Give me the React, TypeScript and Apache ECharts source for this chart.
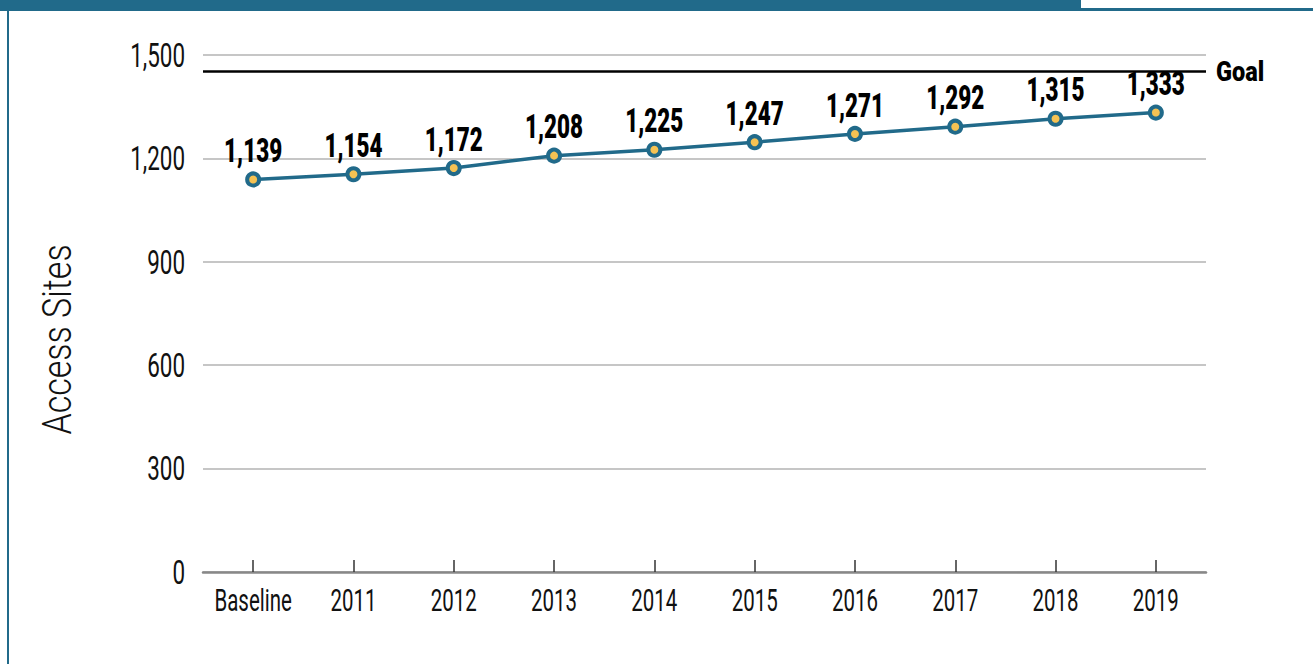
import React, { useEffect, useRef } from "react";
import * as echarts from "echarts";

const categories = ["Baseline", "2011", "2012", "2013", "2014", "2015", "2016", "2017", "2018", "2019"];
const accessSites = [1139, 1154, 1172, 1208, 1225, 1247, 1271, 1292, 1315, 1333];
const goalValue = 1454;
const goalLabel = "Goal";
const yAxisName = "Access Sites";

const TEAL = "#216a8a";
const YELLOW = "#f5c253";
const FONT = "Roboto, 'Liberation Sans', sans-serif";

// horizontal condensing of texts to mimic the reference's condensed typeface
function condenseTexts(root: HTMLElement) {
  const texts = root.querySelectorAll("svg text");
  texts.forEach((node) => {
    const el = node as SVGTextElement;
    const content = (el.textContent || "").trim();
    const weight = parseInt(getComputedStyle(el).fontWeight || "400", 10) || 400;
    let sx = 0.66;
    if (content === goalLabel) sx = 0.84;
    else if (content === yAxisName) sx = 0.83;
    else if (weight >= 600) sx = 0.68;
    const cur = el.getAttribute("transform") || "";
    if (el.getAttribute("data-condensed") === cur && cur !== "") return;
    const xa = parseFloat(el.getAttribute("x") || "0") || 0;
    const next = `${cur} translate(${xa} 0) scale(${sx} 1) translate(${-xa} 0)`.trim();
    el.setAttribute("transform", next);
    el.setAttribute("data-condensed", next);
  });
}

export default function App() {
  const ref = useRef<HTMLDivElement>(null);

  useEffect(() => {
    document.body.style.margin = "0";
    const dom = ref.current;
    if (!dom) return;
    const chart = echarts.init(dom, null, { renderer: "svg" });
    chart.setOption({
      animation: false,
      backgroundColor: "#ffffff",
      grid: { left: 203, right: 107, top: 55, bottom: 92, containLabel: false },
      graphic: [
        { type: "rect", shape: { x: 0, y: 0, width: 1081, height: 11 }, style: { fill: TEAL }, silent: true },
        { type: "rect", shape: { x: 1081, y: 8, width: 232, height: 3 }, style: { fill: TEAL }, silent: true },
        { type: "rect", shape: { x: 7, y: 0, width: 2, height: 664 }, style: { fill: TEAL }, silent: true },
      ],
      xAxis: {
        type: "category",
        data: categories,
        boundaryGap: true,
        axisLine: { show: true, lineStyle: { color: "#888888", width: 2.5 } },
        axisTick: { show: true, inside: true, length: 12, alignWithLabel: true, lineStyle: { color: "#333333", width: 1.5 } },
        axisLabel: { interval: 0, color: "#111111", fontFamily: FONT, fontSize: 31, margin: 13 },
      },
      yAxis: {
        type: "value",
        min: 0,
        max: 1500,
        interval: 300,
        name: yAxisName,
        nameLocation: "middle",
        nameRotate: 90,
        nameGap: 126,
        nameTextStyle: { color: "#111111", fontFamily: FONT, fontWeight: 300, fontSize: 41, padding: [0, 52, 0, 0] },
        axisLine: { show: false },
        axisTick: { show: false },
        splitLine: { lineStyle: { color: "#b3b3b3", width: 1.5 } },
        axisLabel: {
          color: "#111111",
          fontFamily: FONT,
          fontSize: 34,
          margin: 18,
          formatter: (v: number) => v.toLocaleString("en-US"),
        },
      },
      series: [
        {
          type: "line",
          data: accessSites,
          symbol: "circle",
          symbolSize: 12,
          lineStyle: { color: TEAL, width: 3.5 },
          itemStyle: { color: YELLOW, borderColor: TEAL, borderWidth: 4 },
          label: {
            show: true,
            position: "top",
            distance: 4,
            color: "#000000",
            fontFamily: FONT,
            fontWeight: 900,
            fontSize: 33,
            formatter: (p: any) => Number(p.value).toLocaleString("en-US"),
          },
          markLine: {
            silent: true,
            symbol: "none",
            lineStyle: { color: "#000000", width: 2.5, type: "solid" },
            label: {
              show: true,
              position: "end",
              distance: 10,
              formatter: goalLabel,
              color: "#000000",
              fontFamily: FONT,
              fontWeight: 900,
              fontSize: 28,
            },
            data: [{ yAxis: goalValue }],
          },
        },
      ],
    });
    const apply = () => condenseTexts(dom);
    chart.getZr().flush();
    apply();
    chart.on("finished", apply);
    chart.on("rendered", apply);
    return () => chart.dispose();
  }, []);

  return <div ref={ref} style={{ width: 1313, height: 664 }} />;
}
